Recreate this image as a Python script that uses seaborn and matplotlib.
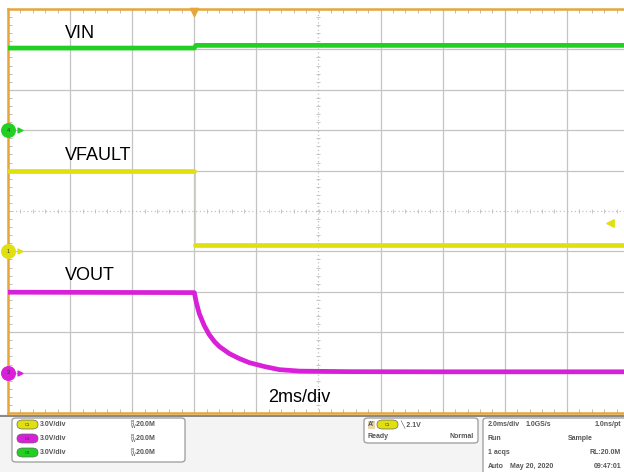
import numpy as np
import pandas as pd
import matplotlib
matplotlib.use('Agg')
import matplotlib.pyplot as plt
import seaborn as sns
from matplotlib.patches import FancyBboxPatch, Rectangle

# ------------------------------------------------------------------
# data (time in ms, voltage in V); seg splits a trace where the scope
# draws only a faint edge
# ------------------------------------------------------------------
vin_t = [-6.0, 0.0, 0.05, 14.0]
vin_v = [6.1, 6.1, 6.3, 6.3]
vin_seg = [0, 0, 0, 0]

vfault_t = [-6.0, 0.0, 0.03, 14.0]
vfault_v = [6.0, 6.0, 0.45, 0.45]
vfault_seg = [0, 0, 1, 1]

vout_t = [-6.0, 0.0, 0.065, 0.16, 0.32, 0.48, 0.65, 0.81, 1.13, 1.45, 1.77, 2.26,
          2.74, 3.39, 5.0, 8.0, 14.0]
vout_v = [5.97, 5.94, 5.20, 4.38, 3.49, 2.82, 2.30, 1.93, 1.41, 1.04, 0.74, 0.45,
          0.22, 0.11, 0.07, 0.06, 0.06]

VOLT_PER_DIV = 3.0
MS_PER_DIV = 2.0

# ground levels of each channel in divisions from screen centre
OFF_VIN = 2.0
OFF_VFAULT = -1.0
OFF_VOUT = -4.0

GREEN = '#22d022'
YELLOW = '#e0e010'
MAGENTA = '#d820d8'
ORANGE = '#e8a63a'
GRID = '#c4c4c4'

W, H = 624, 472


def px(x, y):
    return x / W, 1 - y / H


sns.set_theme(style='white')
plt.rcParams['font.family'] = ['Liberation Sans', 'DejaVu Sans']

fig = plt.figure(figsize=(6.24, 4.72), dpi=100)
fig.patch.set_facecolor('white')

# screen axes: left 8px, top 9px, bottom 413px, 10 div wide (62px) running off the right edge
x0, y0 = px(8, 413)
ax = fig.add_axes([x0, y0, 621 / W, 404 / H])
ax.set_xlim(-6, 14)
ax.set_ylim(-5, 5)
ax.set_facecolor('white')

# grid
for gx in np.arange(-6, 14.1, MS_PER_DIV):
    if gx == 4:
        continue
    ax.axvline(gx, color=GRID, lw=0.9, zorder=0)
for gy in range(-5, 6):
    if gy == 0:
        continue
    ax.axhline(gy, color=GRID, lw=0.9, zorder=0)
ax.axvline(4, color=GRID, lw=0.9, ls=(0, (1, 2)), zorder=0)
ax.axhline(0, color=GRID, lw=0.9, ls=(0, (1, 2)), zorder=0)
xt = np.arange(-6, 14.01, 0.4)
yt = np.arange(-5, 5.01, 0.2)
ax.scatter(xt, np.zeros_like(xt), marker='|', s=12, color='#bdbdbd', lw=0.6, zorder=0)
ax.scatter(np.full_like(yt, 4.0), yt, marker='_', s=12, color='#bdbdbd', lw=0.6, zorder=0)

# border ticks
ax.set_xticks(xt)
ax.set_yticks(yt)
ax.tick_params(axis='both', direction='in', length=3, width=0.7, color='#bdbdbd',
               top=True, bottom=True, left=True, right=False,
               labelbottom=False, labelleft=False)
for side in ['left', 'top', 'bottom']:
    ax.spines[side].set_color(ORANGE)
    ax.spines[side].set_linewidth(1.8)
ax.spines['right'].set_visible(False)
ax.grid(False)

# traces
df_vin = pd.DataFrame({'t': vin_t, 'div': np.array(vin_v) / VOLT_PER_DIV + OFF_VIN, 'seg': vin_seg})
df_vf = pd.DataFrame({'t': vfault_t, 'div': np.array(vfault_v) / VOLT_PER_DIV + OFF_VFAULT,
                      'seg': vfault_seg})
df_vo = pd.DataFrame({'t': vout_t, 'div': np.array(vout_v) / VOLT_PER_DIV + OFF_VOUT})

sns.lineplot(data=df_vin, x='t', y='div', units='seg', estimator=None, sort=False,
             color=GREEN, lw=3.4, ax=ax, zorder=3)
sns.lineplot(data=df_vf, x='t', y='div', units='seg', estimator=None, sort=False,
             color=YELLOW, lw=3.4, ax=ax, zorder=3)
# faint falling edge of VFAULT
ax.plot([0.015, 0.015], [df_vf['div'].iloc[1], df_vf['div'].iloc[2]], color='#d8d8a0', lw=0.8, zorder=2)
sns.lineplot(data=df_vo, x='t', y='div', sort=False, color=MAGENTA, lw=3.4, ax=ax, zorder=3)
ax.set_xlabel('')
ax.set_ylabel('')

# channel ground markers on left edge
for off, col, num in [(OFF_VIN, GREEN, '4'), (OFF_VFAULT, YELLOW, '1'), (OFF_VOUT, MAGENTA, '3')]:
    ax.scatter([-6], [off], s=95, color=col, clip_on=False, zorder=5)
    ax.scatter([-5.6], [off], s=12, marker='>', color=col, clip_on=False, zorder=5)
    ax.text(-6, off, num, fontsize=4, color='#333333', ha='center', va='center',
            clip_on=False, zorder=6)

# trigger markers
ax.scatter([0], [4.93], marker='v', s=35, color=ORANGE, clip_on=False, zorder=6)
ax.scatter([13.4], [-0.3], marker='<', s=28, color=YELLOW, clip_on=False, zorder=6)

# annotations
for txt, x, y in [('VIN', 65, 33), ('VFAULT', 65, 155), ('VOUT', 65, 275), ('2ms/div', 268, 397)]:
    fig.text(*px(x, y), txt, fontsize=13, color='black', ha='left', va='center')

# ------------------------------------------------------------------
# status panel
# ------------------------------------------------------------------
fig.add_artist(Rectangle(px(0, 472), 1, (472 - 414) / H, transform=fig.transFigure,
                         facecolor='#f4f4f4', edgecolor='none', zorder=0))
fig.add_artist(Rectangle(px(0, 417), 1, 2 / H, transform=fig.transFigure,
                         facecolor='#8a8a8a', edgecolor='none', zorder=1))


def box(xa, ya, xb, yb):
    bx, by = px(xa, yb)
    fig.add_artist(FancyBboxPatch((bx, by), (xb - xa) / W, (yb - ya) / H,
                                  boxstyle='round,pad=0,rounding_size=0.006',
                                  transform=fig.transFigure, facecolor='white',
                                  edgecolor='#9a9a9a', lw=0.9, zorder=2))


def pill(x, y, col, label):
    bx, by = px(x, y + 4)
    fig.add_artist(FancyBboxPatch((bx, by), 21 / W, 9 / H,
                                  boxstyle='round,pad=0,rounding_size=0.009',
                                  transform=fig.transFigure, facecolor=col,
                                  edgecolor='#666666', lw=0.5, zorder=3))
    fig.text(*px(x + 10.5, y), label, fontsize=3, color='#333333', ha='center', va='center', zorder=4)


def small(x, y, s, ha='left'):
    fig.text(*px(x, y), s, fontsize=5, fontweight='bold', color='#555555', ha=ha, va='center', zorder=4)


box(12, 418, 185, 462)
rows = [(425, YELLOW, 'C1'), (439, MAGENTA, 'C3'), (453, GREEN, 'C4')]
for y, col, lab in rows:
    pill(17, y, col, lab)
    small(40, y, '3.0V/div')
    small(130, y, r'$^{\mathrm{B}}_{\mathrm{W}}$20.0M')

box(364, 418, 478, 443)
fig.add_artist(Rectangle(px(368, 429), 7 / W, 8 / H, transform=fig.transFigure,
                         facecolor='#e8d7b0', edgecolor='none', zorder=3))
small(368, 425, "A'")
pill(377, 425, YELLOW, 'C1')
small(400, 425, '\u2572 2.1V')
small(368, 437, 'Ready')
small(474, 437, 'Normal', ha='right')

box(483, 418, 640, 478)
small(488, 425, '2.0ms/div')
small(526, 425, '1.0GS/s')
small(621, 425, '1.0ns/pt', ha='right')
small(488, 439, 'Run')
small(568, 439, 'Sample')
small(488, 453, '1 acqs')
small(621, 453, 'RL:20.0M', ha='right')
small(488, 466, 'Auto')
small(510, 466, 'May 20, 2020')
small(621, 466, '09:47:01', ha='right')

fig.savefig('out.png', dpi=100)
